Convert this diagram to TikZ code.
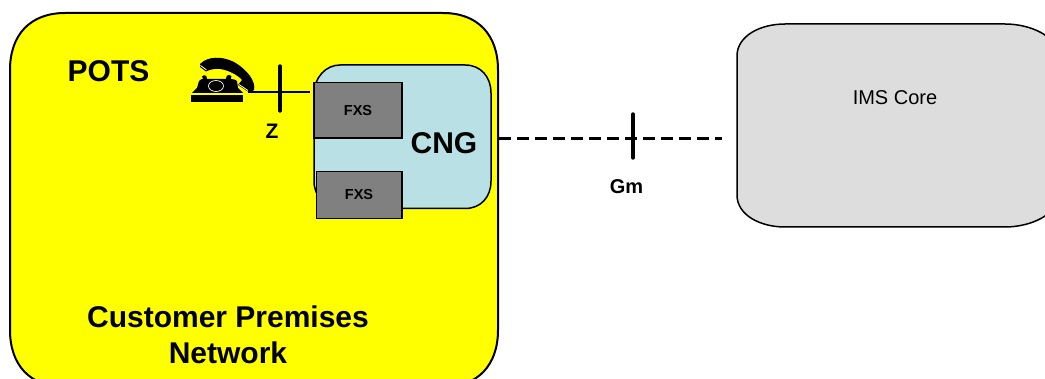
\documentclass[tikz,border=0pt]{standalone}
\usepackage{fontspec}
\setmainfont{Liberation Sans}
\tikzset{
  x=1pt,y=-1pt,
  lbl/.style={inner sep=0pt,font=\bfseries},
  fxsbox/.style={draw=black,line width=1.5pt,fill=fxsgray,inner sep=0pt,font=\bfseries\fontsize{14.500}{17}\selectfont},
  tick/.style={line width=3.4pt,line cap=round},
}
\definecolor{fxsgray}{RGB}{128,128,128}
\definecolor{cngblue}{RGB}{185,224,228}
\definecolor{imsgray}{RGB}{221,221,221}
\definecolor{premyellow}{RGB}{255,255,0}
\begin{document}
\begin{tikzpicture}
\useasboundingbox (0,0) rectangle (1045,379);
\clip (0,0) rectangle (1045,379);
% customer premises
\draw[line width=2pt,fill=premyellow] (10,70) .. controls (10,35) and (30,13) .. (65,13) -- (443,13) .. controls (478,13) and (498,35) .. (498,70) -- (498,330) .. controls (498,365) and (478,387) .. (443,387) -- (65,387) .. controls (30,387) and (10,365) .. (10,330) -- cycle;
% CNG
\draw[line width=1.5pt,fill=cngblue] (314,95) .. controls (314,77) and (326,65) .. (340,65) -- (465,65) .. controls (481,65) and (491,77) .. (491,93) -- (491,181) .. controls (491,197) and (481,208.500) .. (465,208.500) -- (340,208.500) .. controls (326,208.500) and (314,197) .. (314,181) -- cycle;
\node[fxsbox,minimum width=88pt,minimum height=55.500pt] (fxsa) at (358,110.500) {FXS};
\node[fxsbox,minimum width=85.500pt,minimum height=47pt] (fxsb) at (359,195) {\raisebox{-1.2pt}{FXS}};
\node[lbl,font=\bfseries\fontsize{30}{36}\selectfont] (cng) at (444,143) {CNG};
% IMS
\draw[line width=1.5pt,fill=imsgray] (737,56) .. controls (737,36) and (760,24) .. (785,24) -- (1005,24) .. controls (1030,24) and (1058,36) .. (1058,56) -- (1058,195) .. controls (1058,215) and (1030,227) .. (1005,227) -- (785,227) .. controls (760,227) and (737,215) .. (737,195) -- cycle;
\node[inner sep=0pt,font=\fontsize{20}{24}\selectfont] (ims) at (895,98) {IMS Core};
% labels
\node[lbl,font=\bfseries\fontsize{30}{36}\selectfont] (pots) at (108.500,71) {POTS};
\node[lbl,font=\bfseries\fontsize{30}{36}\selectfont,align=center] (cpn) at (228,334.500) {Customer Premises\\Network};
\node[lbl,font=\bfseries\fontsize{21}{25}\selectfont] (z) at (272,131.500) {Z};
\node[lbl,font=\bfseries\fontsize{20}{24}\selectfont] (gm) at (626.500,187) {Gm};
% phone
\fill (191,95) rectangle (243,102);
\fill (192,93) -- (197,88) -- (199,81) .. controls (201,79) and (202,79) .. (203,79) .. controls (199,75) and (208,73) .. (207,79) -- (226,79) .. controls (225,73) and (234,74) .. (231,79) .. controls (234,79) and (236,80) .. (237,81) -- (238,88) -- (243,93) -- cycle;
\draw[white,line width=.7pt] (216,86) ellipse (7.500 and 5.500);
% handset
\fill (200,64) .. controls (208,56) and (222,56) .. (234,62) .. controls (248,70) and (256,82) .. (254,90) .. controls (253,92) and (250,92) .. (248,91.500) -- (238,85) -- (242,80) .. controls (238,75) and (228,70) .. (220,69) .. controls (214,68.500) and (210,69.500) .. (206,71.500) -- (200,67) -- cycle;
\draw[white,line width=.8pt] (200.500,65.500) -- (206.500,70);
\draw[white,line width=.8pt] (239,84.500) -- (248,90.500);
% connectors
\coordinate (phoneend) at (248,92);
\coordinate (zend) at (310,92);
\coordinate (ztop) at (280,66);
\coordinate (zbot) at (280,111);
\draw[line width=1.7pt] (phoneend) -- (zend);
\draw[tick] (ztop) -- (zbot);
\coordinate (gma) at (499,139);
\coordinate (gmb) at (722,139);
\coordinate (gmt) at (633,114);
\coordinate (gmu) at (633,158);
\draw[line width=3pt,dash pattern=on 12pt off 6pt] (gma) -- (gmb);
\draw[tick] (gmt) -- (gmu);
\end{tikzpicture}
\end{document}
